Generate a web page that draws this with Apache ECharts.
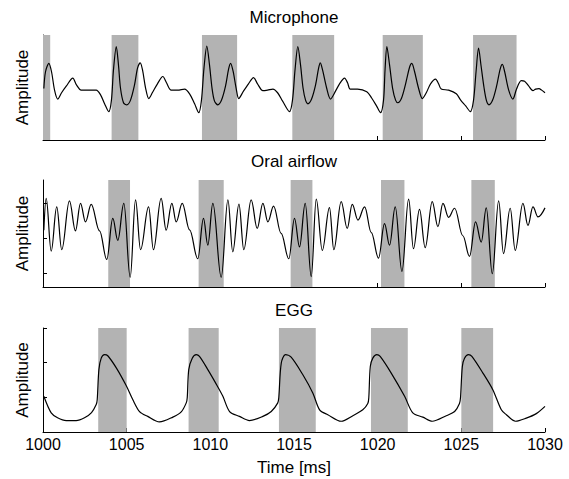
<!DOCTYPE html>
<html>
<head>
<meta charset="utf-8">
<script src="https://cdn.jsdelivr.net/npm/echarts@6/dist/echarts.min.js"></script>
<style>
html,body{margin:0;padding:0;background:#fff;}
#chart{width:569px;height:479px;}
</style>
</head>
<body>
<div id="chart"></div>
<script>
// ---------- data ----------
const panelTitles = ['Microphone', 'Oral airflow', 'EGG'];
const yAxisTitle = 'Amplitude';
const xAxisTitle = 'Time [ms]';
const xTickValues = [1000, 1005, 1010, 1015, 1020, 1025, 1030];

const micTime = [1000.05,1000.15,1000.35,1000.51,1000.69,1000.88,1001.11,1001.40,1001.78,1002.00,1002.28,1002.72,1003.18,1003.44,1003.68,1003.93,
 1004.09,1004.21,1004.38,1004.51,1004.63,1004.81,1005.01,1005.23,1005.47,1005.65,1005.81,1005.95,1006.13,1006.32,1006.55,1006.84,1007.16,1007.38,1007.66,1008.04,1008.46,1008.76,1009.06,1009.31,
 1009.47,1009.62,1009.79,1009.95,1010.10,1010.25,1010.45,1010.67,1010.91,1011.09,1011.21,1011.36,1011.54,1011.70,1011.98,1012.28,1012.58,1012.82,1013.14,1013.42,1013.74,1014.02,1014.32,1014.73,
 1014.91,1015.06,1015.23,1015.39,1015.54,1015.69,1015.83,1016.05,1016.29,1016.47,1016.57,1016.71,1016.95,1017.18,1017.48,1017.72,1018.02,1018.20,1018.36,1018.80,1019.35,1019.64,1019.93,1020.17,
 1020.35,1020.44,1020.55,1020.71,1020.89,1021.07,1021.21,1021.43,1021.67,1021.91,1022.04,1022.20,1022.44,1022.67,1022.92,1023.16,1023.46,1023.64,1023.80,1024.24,1024.70,1024.96,1025.26,1025.54,
 1025.73,1025.88,1026.03,1026.18,1026.36,1026.51,1026.65,1026.87,1027.11,1027.32,1027.45,1027.59,1027.83,1028.08,1028.30,1028.58,1028.78,1029.02,1029.28,1029.44,1029.64,1029.80,1030.00];
const micAmp = [0.98,1.30,1.46,1.30,0.95,0.78,0.90,1.03,1.18,1.05,0.95,0.95,0.95,0.86,0.69,0.54,
 0.76,1.33,1.78,1.43,0.99,0.71,0.67,0.76,1.05,1.37,1.47,1.33,0.99,0.79,0.91,1.07,1.21,1.09,0.95,0.95,0.97,0.88,0.69,0.52,
 0.76,1.37,1.79,1.43,0.99,0.74,0.67,0.76,1.03,1.35,1.46,1.31,0.99,0.79,0.93,1.07,1.19,1.07,0.94,0.95,0.97,0.90,0.74,0.54,
 0.76,1.33,1.78,1.43,0.99,0.76,0.69,0.78,1.05,1.37,1.47,1.33,0.99,0.78,0.93,1.07,1.18,1.09,0.97,0.97,0.92,0.80,0.65,0.52,
 0.76,1.33,1.78,1.43,0.99,0.76,0.71,0.80,1.07,1.39,1.46,1.31,0.99,0.79,0.91,1.07,1.16,1.07,0.97,0.95,0.88,0.76,0.65,0.54,
 0.76,1.30,1.75,1.41,0.99,0.74,0.67,0.76,1.03,1.35,1.44,1.30,0.95,0.78,0.97,1.13,1.12,1.03,0.94,0.97,0.98,0.95,0.90];

const airTime = [1000.05,1000.19,1000.49,1000.82,1001.12,1001.58,1001.94,1002.24,1002.54,1002.88,1003.38,1003.81,1004.17,1004.47,1004.83,1005.21,
 1005.53,1005.83,1006.31,1006.60,1007.06,1007.36,1007.70,1007.96,1008.32,1008.76,1009.25,1009.59,1009.85,1010.15,1010.65,
 1011.05,1011.34,1011.71,1012.00,1012.44,1012.80,1013.14,1013.44,1013.78,1014.23,1014.69,1015.03,1015.33,1015.67,1016.03,
 1016.33,1016.69,1017.12,1017.38,1017.82,1018.18,1018.48,1018.82,1019.22,1019.62,1020.05,1020.41,1020.71,1021.05,1021.45,
 1021.85,1022.14,1022.50,1022.84,1023.26,1023.60,1023.90,1024.24,1024.60,1025.09,1025.49,1025.85,1026.19,1026.49,1026.85,
 1027.23,1027.52,1027.92,1028.22,1028.68,1028.98,1029.28,1029.58,1030.00];
const airAmp = [1.23,2.14,0.63,1.90,0.67,2.07,1.21,2.00,1.47,1.97,1.21,0.39,1.57,0.94,2.00,-0.12,
 2.10,0.67,1.90,0.67,2.14,1.23,2.00,1.47,2.00,1.24,0.41,1.57,0.80,2.00,-0.12,
 2.10,0.61,1.98,0.67,2.10,1.28,2.00,1.47,1.92,1.14,0.41,1.57,0.75,2.00,-0.10,
 2.12,0.65,1.88,0.67,2.05,1.28,1.97,1.52,1.90,1.16,0.43,1.42,0.80,1.90,0.05,
 2.12,0.70,1.83,0.73,2.05,1.33,2.00,1.60,1.86,1.07,0.48,1.47,0.89,1.87,-0.02,
 2.07,0.56,1.86,0.65,2.00,1.37,1.90,1.61,1.87];

const eggTime = [1000.05,1000.49,1000.87,1001.39,1001.98,1002.48,1002.90,1003.18,1003.24,1003.34,1003.48,1003.68,1003.87,1004.38,1004.97,1005.37,1005.77,1006.26,
 1006.96,1007.76,1008.26,1008.56,1008.62,1008.71,1008.92,1009.16,1009.35,1009.85,1010.45,1010.75,1011.15,1011.74,
 1012.34,1013.14,1013.64,1014.03,1014.09,1014.24,1014.49,1014.83,1015.53,1016.13,1016.53,1017.02,
 1017.82,1018.52,1019.11,1019.41,1019.47,1019.56,1019.71,1019.95,1020.15,1020.81,1021.61,1022.10,1022.70,
 1023.26,1024.10,1024.60,1024.89,1024.95,1025.06,1025.19,1025.43,1025.63,1026.29,1026.88,1027.39,1027.69,
 1028.24,1028.88,1029.48,1030.00];
const eggAmp = [1.03,0.55,0.41,0.33,0.33,0.41,0.56,0.79,0.93,1.80,2.13,2.23,2.20,1.85,1.34,0.93,0.59,0.45,
 0.29,0.43,0.58,0.84,0.99,1.80,2.13,2.23,2.18,1.80,1.30,1.03,0.59,0.45,
 0.33,0.45,0.59,0.84,0.99,1.99,2.23,2.16,1.65,1.12,0.64,0.50,
 0.31,0.47,0.64,0.82,0.99,1.89,2.13,2.23,2.18,1.70,1.03,0.55,0.43,
 0.31,0.47,0.59,0.82,0.99,1.89,2.13,2.23,2.18,1.70,1.22,0.64,0.50,
 0.31,0.40,0.53,0.74];

const micShade = [[1000.0,1000.43],[1004.1,1005.7],[1009.5,1011.6],[1014.9,1017.4],[1020.3,1022.7],[1025.7,1028.3]];
const airShade = [[1003.9,1005.2],[1009.3,1010.8],[1014.8,1016.1],[1020.2,1021.6],[1025.6,1027.0]];
const eggShade = [[1003.3,1005.0],[1008.7,1010.5],[1014.1,1016.3],[1019.6,1021.8],[1025.0,1026.9]];

const micYTicks = [0, 1, 2];
const airYTicks = [0, 1, 2];
const eggYTicks = [0, 1, 2, 3];

// ---------- chart ----------
const FONT = '"Liberation Sans", Arial, sans-serif';
const chart = echarts.init(document.getElementById('chart'), null, {renderer: 'svg'});

const grids = [
  {left: 43, right: 24, top: 35, height: 105},
  {left: 43, right: 24, top: 180, height: 107},
  {left: 43, right: 24, top: 328, height: 104}
];
const yRanges = [[0, 2], [-0.4, 2.67], [0, 3]];
const yTicks = [micYTicks, airYTicks, eggYTicks];
const times = [micTime, airTime, eggTime];
const amps = [micAmp, airAmp, eggAmp];
const shades = [micShade, airShade, eggShade];

const xAxes = grids.map((g, i) => ({
  type: 'value', gridIndex: i, min: 1000, max: 1030, interval: 5,
  axisLine: {show: true, onZero: false, lineStyle: {color: '#000', width: 1}},
  axisTick: {show: true, inside: true, length: 4, lineStyle: {color: '#000'}},
  axisLabel: {show: i === 2, color: '#000', fontSize: 16, fontFamily: FONT, margin: 4,
              formatter: v => String(v)},
  splitLine: {show: false},
  name: i === 2 ? xAxisTitle : '',
  nameLocation: 'middle', nameGap: 27,
  nameTextStyle: {color: '#000', fontSize: 17, fontFamily: FONT}
}));

const yAxes = grids.map((g, i) => ({
  type: 'value', gridIndex: i, min: yRanges[i][0], max: yRanges[i][1],
  axisLine: {show: true, onZero: false, lineStyle: {color: '#000', width: 1}},
  axisTick: {show: true, inside: true, length: 4, lineStyle: {color: '#000'}, customValues: yTicks[i]},
  axisLabel: {show: false},
  splitLine: {show: false},
  name: yAxisTitle, nameLocation: 'middle', nameGap: 12, nameRotate: 90,
  nameTextStyle: {color: '#000', fontSize: 17, fontFamily: FONT}
}));

const series = grids.map((g, i) => ({
  type: 'line', xAxisIndex: i, yAxisIndex: i,
  data: times[i].map((t, k) => [t, amps[i][k]]),
  showSymbol: false, symbol: 'none',
  smooth: i === 1 ? 0.38 : 0.3,
  smoothMonotone: i === 1 ? 'x' : undefined,
  lineStyle: {color: '#000', width: 1.2},
  z: 3,
  markArea: {
    silent: true,
    itemStyle: {color: '#b3b3b3', opacity: 1},
    data: shades[i].map(s => [{xAxis: s[0]}, {xAxis: s[1]}])
  }
}));

const centerX = 43 + (569 - 24 - 43) / 2;
const titleY = [17, 161, 310];
const graphic = panelTitles.map((t, i) => ({
  type: 'text', x: centerX, y: titleY[i], silent: true,
  style: {text: t, fill: '#000', font: '17px ' + FONT, textAlign: 'center', textVerticalAlign: 'middle'}
}));

chart.setOption({
  animation: false,
  backgroundColor: '#fff',
  grid: grids,
  xAxis: xAxes,
  yAxis: yAxes,
  series: series,
  graphic: graphic
});
</script>
</body>
</html>
